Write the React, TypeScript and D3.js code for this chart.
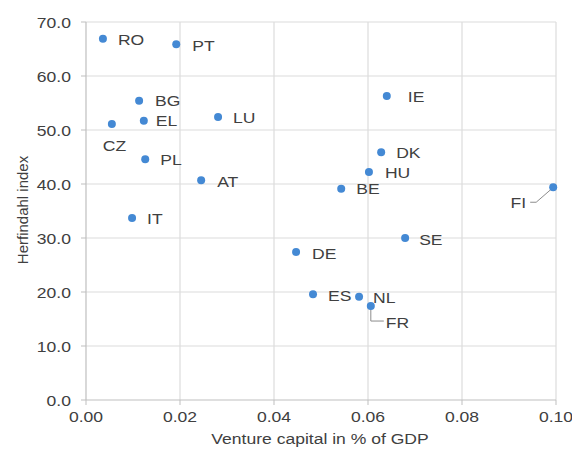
import React from "react";
import * as d3 from "d3";

const countries = ["RO","PT","BG","EL","CZ","LU","PL","AT","IT","IE","DK","HU","BE","FI","SE","DE","ES","NL","FR"];
const ventureCapital = [0.0036,0.0192,0.0113,0.0123,0.0055,0.0281,0.0126,0.0245,0.0098,0.0640,0.0628,0.0602,0.0543,0.0994,0.0679,0.0447,0.0483,0.0581,0.0606];
const herfindahl = [66.9,65.9,55.4,51.7,51.1,52.4,44.6,40.7,33.7,56.3,45.9,42.2,39.1,39.4,30.0,27.4,19.6,19.1,17.4];
const xTicks = [0, 0.02, 0.04, 0.06, 0.08, 0.10];
const yTicks = [0, 10, 20, 30, 40, 50, 60, 70];

// label placement offsets (layout only)
const labelOffsets: Record<string, [number, number, string]> = {
  RO: [15, 1, "start"], PT: [16, 1, "start"], BG: [16, 0, "start"], EL: [12, 0, "start"],
  CZ: [-9, 21, "start"], LU: [15, 0, "start"], PL: [15, 0, "start"], AT: [16, 1, "start"],
  IT: [15, 0, "start"], IE: [21, 1, "start"], DK: [15, 0, "start"], HU: [16, 0, "start"],
  BE: [15, 0, "start"], FI: [-27, 15, "end"], SE: [14, 1, "start"], DE: [16, 1, "start"],
  ES: [15, 1, "start"], NL: [14, 1, "start"], FR: [15, 16, "start"],
};

const SX = 1.17;
const textColor = "#404040";
const font = "'Liberation Sans', Arial, sans-serif";

function T({ x, y, children, anchor = "start", size = 15 }: any) {
  return (
    <g transform={`translate(${x},${y}) scale(${SX},1)`}>
      <text x={0} y={0} textAnchor={anchor} dominantBaseline="central" fontSize={size} fill={textColor} fontFamily={font}>{children}</text>
    </g>
  );
}

export default function App() {
  const W = 572, H = 450;
  const x = d3.scaleLinear().domain([0, 0.1]).range([86, 556]);
  const y = d3.scaleLinear().domain([0, 70]).range([400, 22]);
  const fmtX = d3.format(".2f");
  const fmtY = d3.format(".1f");
  return (
    <svg width={W} height={H} style={{ position: "absolute", left: 0, top: 0, background: "#fff" }}>
      {yTicks.filter(t => t > 0).map(t => (
        <line key={"gy" + t} x1={x(0)} x2={x(0.1)} y1={y(t)} y2={y(t)} stroke="#dcdcdc" strokeWidth={1.2} />
      ))}
      {xTicks.filter(t => t > 0).map(t => (
        <line key={"gx" + t} x1={x(t)} x2={x(t)} y1={y(0)} y2={y(70)} stroke="#dcdcdc" strokeWidth={1.2} />
      ))}
      <line x1={x(0)} x2={x(0)} y1={y(0)} y2={y(70)} stroke="#bfbfbf" strokeWidth={1.2} />
      <line x1={x(0)} x2={x(0.1)} y1={y(0)} y2={y(0)} stroke="#bfbfbf" strokeWidth={1.2} />
      {yTicks.map(t => (
        <g key={"ty" + t}>
          <line x1={x(0) - 5} x2={x(0)} y1={y(t)} y2={y(t)} stroke="#bfbfbf" />
          <T x={71} y={y(t)} anchor="end">{fmtY(t)}</T>
        </g>
      ))}
      {xTicks.map(t => (
        <g key={"tx" + t}>
          <line x1={x(t)} x2={x(t)} y1={y(0)} y2={y(0) + 5} stroke="#bfbfbf" />
          <T x={x(t)} y={416} anchor="middle">{fmtX(t)}</T>
        </g>
      ))}
      <T x={320} y={438} anchor="middle">Venture capital in % of GDP</T>
      <text transform={`translate(22,210) rotate(-90)`} textAnchor="middle" dominantBaseline="central" fontSize={15} fill={textColor} fontFamily={font}>Herfindahl index</text>
      {/* leader lines */}
      {countries.map((c, i) => {
        const px = x(ventureCapital[i]), py = y(herfindahl[i]);
        if (c === "FI") {
          return <polyline key="lfi" points={`${px - 23},${py + 15} ${px - 17},${py + 15} ${px - 2},${py + 2}`} fill="none" stroke="#8c8c8c" strokeWidth={1} />;
        }
        if (c === "FR") {
          return <polyline key="lfr" points={`${px},${py} ${px},${py + 15} ${px + 13},${py + 15}`} fill="none" stroke="#8c8c8c" strokeWidth={1} />;
        }
        return null;
      })}
      {countries.map((c, i) => (
        <circle key={"p" + c} cx={x(ventureCapital[i])} cy={y(herfindahl[i])} r={4} fill="#4489d4" />
      ))}
      {countries.map((c, i) => {
        const [dx, dy, anchor] = labelOffsets[c];
        return <T key={"l" + c} x={x(ventureCapital[i]) + dx} y={y(herfindahl[i]) + dy} anchor={anchor}>{c}</T>;
      })}
    </svg>
  );
}
